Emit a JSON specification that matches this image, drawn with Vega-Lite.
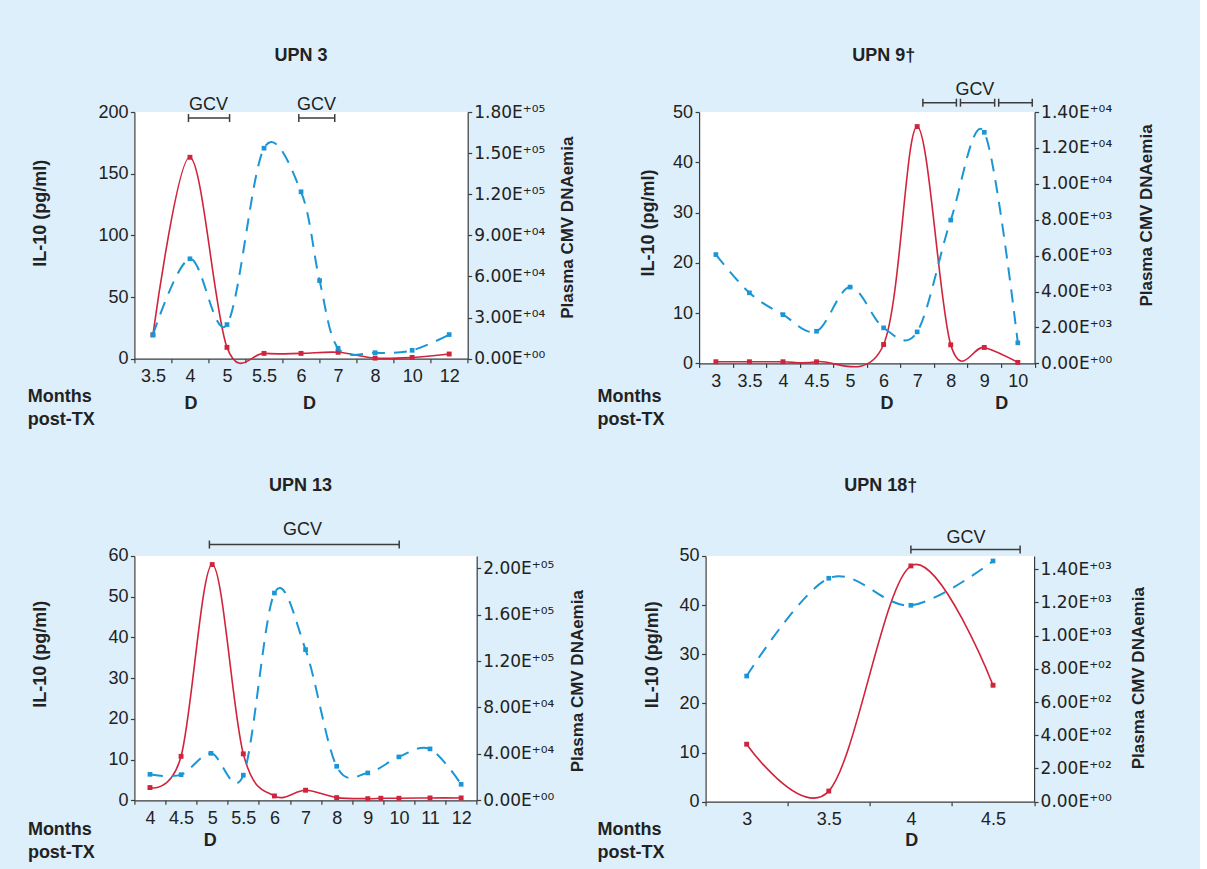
{
  "$schema": "https://vega.github.io/schema/vega-lite/v6.json",
  "background": "#ddeffb",
  "padding": {"left": 26.4, "top": 46, "right": 45, "bottom": 60},
  "columns": 1,
  "align": "none",
  "spacing": 48,
  "concat": [
    {
      "hconcat": [
        {
          "title": {"text": "UPN 3", "offset": 31, "dx": 0},
          "width": 333.3, "height": 246.7,
          "encoding": {"x": {"field": "step", "type": "quantitative", "scale": {"domain": [-0.5, 8.5], "nice": false, "zero": false},
            "axis": {"values": [-0.5,0,0.5,1,1.5,2,2.5,3,3.5,4,4.5,5,5.5,6,6.5,7,7.5,8,8.5],
              "labelExpr": "datum.value % 1 === 0 ? ['3.5','4','5','5.5','6','7','8','10','12'][datum.value] : ''",
              "tickOpacity": {"condition": {"test": "datum.value % 1 === 0", "value": 0}, "value": 1},
              "labelPadding": 5,
              "title": ["Months", "post-TX"], "titleX": -107.1, "titleY": 42.7, "titleAlign": "left", "titleBaseline": "alphabetic", "titleLineHeight": 23.4}}},
          "resolve": {"scale": {"y": "independent"}},
          "layer": [
            {"data": {"values": [{"step":0,"il10":19.3},{"step":1,"il10":163.3},{"step":2,"il10":9.2},{"step":3,"il10":4.3},{"step":4,"il10":4.3},{"step":5,"il10":5.2},{"step":6,"il10":0.5},{"step":7,"il10":1},{"step":8,"il10":3.8}]},
             "encoding": {"y": {"field": "il10", "type": "quantitative", "scale": {"domain": [0, 200], "nice": false},
               "axis": {"orient": "left", "values": [0,50,100,150,200], "labelPadding": 2.5, "title": "IL-10 (pg/ml)", "titleAngle": 270, "titleX": -93.9, "titleY": 100.7, "titleAlign": "center", "titleBaseline": "middle"}}},
             "layer": [
               {"mark": {"type": "line", "interpolate": "cardinal", "color": "#d0243c", "strokeWidth": 1.6}},
               {"mark": {"type": "point", "shape": "square", "filled": true, "size": 24, "color": "#d0243c", "opacity": 1}}
             ]},
            {"data": {"values": [{"step":0,"cmv":17400},{"step":1,"cmv":72900},{"step":2,"cmv":24900},{"step":3,"cmv":153600},{"step":4,"cmv":121800},{"step":4.5,"cmv":57000},{"step":5,"cmv":7600},{"step":6,"cmv":4400},{"step":7,"cmv":6100},{"step":8,"cmv":17600}]},
             "encoding": {"y": {"field": "cmv", "type": "quantitative", "scale": {"domain": [0, 180000], "nice": false},
               "axis": {"orient": "right", "values": [0,30000,60000,90000,120000,150000,180000], "labelPadding": 2, "labelFont": "DejaVu Sans", "labelFontSize": 17,
                 "labelExpr": "datum.value === 0 ? '0.00E⁺⁰⁰' : format(datum.value / pow(10, floor(log(datum.value) / LN10 + 1e-6)), '.2f') + 'E⁺⁰' + substring('⁰¹²³⁴⁵⁶⁷⁸⁹', floor(log(datum.value) / LN10 + 1e-6), floor(log(datum.value) / LN10 + 1e-6) + 1)",
                 "title": "Plasma CMV DNAemia", "titleFontSize": 17, "titleAngle": 270, "titleX": 99.6, "titleY": 115.2, "titleAlign": "center", "titleBaseline": "middle"}}},
             "layer": [
               {"mark": {"type": "line", "interpolate": "cardinal", "color": "#1b96d4", "strokeWidth": 2, "strokeDash": [13, 9]}},
               {"mark": {"type": "point", "shape": "square", "filled": true, "size": 22, "color": "#1b96d4", "opacity": 1}}
             ]},
            {"data": {"values": [{"step": 0.96, "step2": 2.07, "yv": 195.1}, {"step": 3.94, "step2": 4.91, "yv": 195.1}]},
             "mark": {"type": "rule", "color": "#3c3c3c", "strokeWidth": 1.5},
             "encoding": {"x2": {"field": "step2"}, "y": {"field": "yv", "type": "quantitative", "scale": {"domain": [0, 200], "nice": false}, "axis": null}}},
            {"data": {"values": [{"step": 0.96, "yv": 195.1}, {"step": 2.07, "yv": 195.1}, {"step": 3.94, "yv": 195.1}, {"step": 4.91, "yv": 195.1}]},
             "mark": {"type": "tick", "orient": "vertical", "size": 8, "thickness": 1.5, "color": "#3c3c3c", "opacity": 1},
             "encoding": {"y": {"field": "yv", "type": "quantitative", "scale": {"domain": [0, 200], "nice": false}, "axis": null}}},
            {"data": {"values": [{"step": 1.5, "yv": 205.6, "label": "GCV"}, {"step": 4.42, "yv": 205.6, "label": "GCV"}]},
             "mark": {"type": "text", "fontSize": 18, "color": "#222222", "baseline": "middle"},
             "encoding": {"y": {"field": "yv", "type": "quantitative", "scale": {"domain": [0, 200], "nice": false}, "axis": null}, "text": {"field": "label"}}},
            {"data": {"values": [{"step": 1.03, "yv": -37.0, "label": "D"}, {"step": 4.23, "yv": -37.0, "label": "D"}]},
             "mark": {"type": "text", "fontSize": 18, "fontWeight": "bold", "color": "#222222", "baseline": "middle"},
             "encoding": {"y": {"field": "yv", "type": "quantitative", "scale": {"domain": [0, 200], "nice": false}, "axis": null}, "text": {"field": "label"}}}
          ]
        },
        {
          "title": {"text": "UPN 9†", "offset": 16, "dx": 17},
          "width": 335.5, "height": 251.4,
          "encoding": {"x": {"field": "step", "type": "quantitative", "scale": {"domain": [-0.5, 9.5], "nice": false, "zero": false},
            "axis": {"values": [-0.5,0,0.5,1,1.5,2,2.5,3,3.5,4,4.5,5,5.5,6,6.5,7,7.5,8,8.5,9,9.5],
              "labelExpr": "datum.value % 1 === 0 ? ['3','3.5','4','4.5','5','6','7','8','9','10'][datum.value] : ''",
              "tickOpacity": {"condition": {"test": "datum.value % 1 === 0", "value": 0}, "value": 1},
              "labelPadding": 5,
              "title": ["Months", "post-TX"], "titleX": -102.1, "titleY": 38, "titleAlign": "left", "titleBaseline": "alphabetic", "titleLineHeight": 23.4}}},
          "resolve": {"scale": {"y": "independent"}},
          "layer": [
            {"data": {"values": [{"step":0,"il10":0.33},{"step":1,"il10":0.33},{"step":2,"il10":0.33},{"step":3,"il10":0.33},{"step":5,"il10":3.76},{"step":6,"il10":47.1},{"step":7,"il10":3.7},{"step":8,"il10":3.17},{"step":9,"il10":0.2}]},
             "encoding": {"y": {"field": "il10", "type": "quantitative", "scale": {"domain": [0, 50], "nice": false},
               "axis": {"orient": "left", "values": [0,10,20,30,40,50], "labelPadding": 2.5, "title": "IL-10 (pg/ml)", "titleAngle": 270, "titleX": -50.9, "titleY": 110.5, "titleAlign": "center", "titleBaseline": "middle"}}},
             "layer": [
               {"mark": {"type": "line", "interpolate": "cardinal", "color": "#d0243c", "strokeWidth": 1.6}},
               {"mark": {"type": "point", "shape": "square", "filled": true, "size": 24, "color": "#d0243c", "opacity": 1}}
             ]},
            {"data": {"values": [{"step":0,"cmv":6060},{"step":1,"cmv":3930},{"step":2,"cmv":2715},{"step":3,"cmv":1790},{"step":4,"cmv":4250},{"step":5,"cmv":1980},{"step":6,"cmv":1755},{"step":7,"cmv":7980},{"step":8,"cmv":12870},{"step":9,"cmv":1145}]},
             "encoding": {"y": {"field": "cmv", "type": "quantitative", "scale": {"domain": [0, 14000], "nice": false},
               "axis": {"orient": "right", "values": [0,2000,4000,6000,8000,10000,12000,14000], "labelPadding": 2, "labelFont": "DejaVu Sans", "labelFontSize": 17,
                 "labelExpr": "datum.value === 0 ? '0.00E⁺⁰⁰' : format(datum.value / pow(10, floor(log(datum.value) / LN10 + 1e-6)), '.2f') + 'E⁺⁰' + substring('⁰¹²³⁴⁵⁶⁷⁸⁹', floor(log(datum.value) / LN10 + 1e-6), floor(log(datum.value) / LN10 + 1e-6) + 1)",
                 "title": "Plasma CMV DNAemia", "titleFontSize": 17, "titleAngle": 270, "titleX": 112, "titleY": 103, "titleAlign": "center", "titleBaseline": "middle"}}},
             "layer": [
               {"mark": {"type": "line", "interpolate": "cardinal", "color": "#1b96d4", "strokeWidth": 2, "strokeDash": [13, 9]}},
               {"mark": {"type": "point", "shape": "square", "filled": true, "size": 22, "color": "#1b96d4", "opacity": 1}}
             ]},
            {"data": {"values": [{"step": 6.17, "step2": 7.17, "yv": 51.85}, {"step": 7.29, "step2": 8.31, "yv": 51.85}, {"step": 8.43, "step2": 9.43, "yv": 51.85}]},
             "mark": {"type": "rule", "color": "#3c3c3c", "strokeWidth": 1.5},
             "encoding": {"x2": {"field": "step2"}, "y": {"field": "yv", "type": "quantitative", "scale": {"domain": [0, 50], "nice": false}, "axis": null}}},
            {"data": {"values": [{"step": 6.17, "yv": 51.85}, {"step": 7.17, "yv": 51.85}, {"step": 7.29, "yv": 51.85}, {"step": 8.31, "yv": 51.85}, {"step": 8.43, "yv": 51.85}, {"step": 9.43, "yv": 51.85}]},
             "mark": {"type": "tick", "orient": "vertical", "size": 8, "thickness": 1.5, "color": "#3c3c3c", "opacity": 1},
             "encoding": {"y": {"field": "yv", "type": "quantitative", "scale": {"domain": [0, 50], "nice": false}, "axis": null}}},
            {"data": {"values": [{"step": 7.72, "yv": 54.4, "label": "GCV"}]},
             "mark": {"type": "text", "fontSize": 18, "color": "#222222", "baseline": "middle"},
             "encoding": {"y": {"field": "yv", "type": "quantitative", "scale": {"domain": [0, 50], "nice": false}, "axis": null}, "text": {"field": "label"}}},
            {"data": {"values": [{"step": 5.1, "yv": -8.15, "label": "D"}, {"step": 8.52, "yv": -8.15, "label": "D"}]},
             "mark": {"type": "text", "fontSize": 18, "fontWeight": "bold", "color": "#222222", "baseline": "middle"},
             "encoding": {"y": {"field": "yv", "type": "quantitative", "scale": {"domain": [0, 50], "nice": false}, "axis": null}, "text": {"field": "label"}}}
          ]
        }
      ],
      "spacing": 230.7, "bounds": "flush"
    },
    {
      "hconcat": [
        {
          "title": {"text": "UPN 13", "offset": 25.7, "dx": -5},
          "width": 342.3, "height": 244.3,
          "encoding": {"x": {"field": "step", "type": "quantitative", "scale": {"domain": [-0.5, 10.5], "nice": false, "zero": false},
            "axis": {"values": [-0.5,0,0.5,1,1.5,2,2.5,3,3.5,4,4.5,5,5.5,6,6.5,7,7.5,8,8.5,9,9.5,10,10.5],
              "labelExpr": "datum.value % 1 === 0 ? ['4','4.5','5','5.5','6','7','8','9','10','11','12'][datum.value] : ''",
              "tickOpacity": {"condition": {"test": "datum.value % 1 === 0", "value": 0}, "value": 1},
              "labelPadding": 5,
              "title": ["Months", "post-TX"], "titleX": -107.0, "titleY": 33.8, "titleAlign": "left", "titleBaseline": "alphabetic", "titleLineHeight": 23.4}}},
          "resolve": {"scale": {"y": "independent"}},
          "layer": [
            {"data": {"values": [{"step":0,"il10":3.13},{"step":1,"il10":10.8},{"step":2,"il10":57.9},{"step":3,"il10":11.4},{"step":4,"il10":1.07},{"step":5,"il10":2.47},{"step":6,"il10":0.66},{"step":7,"il10":0.4},{"step":7.42,"il10":0.5},{"step":8,"il10":0.5},{"step":9,"il10":0.58},{"step":10,"il10":0.58}]},
             "encoding": {"y": {"field": "il10", "type": "quantitative", "scale": {"domain": [0, 60], "nice": false},
               "axis": {"orient": "left", "values": [0,10,20,30,40,50,60], "labelPadding": 2.5, "title": "IL-10 (pg/ml)", "titleAngle": 270, "titleX": -93.5, "titleY": 97.8, "titleAlign": "center", "titleBaseline": "middle"}}},
             "layer": [
               {"mark": {"type": "line", "interpolate": "cardinal", "color": "#d0243c", "strokeWidth": 1.6}},
               {"mark": {"type": "point", "shape": "square", "filled": true, "size": 24, "color": "#d0243c", "opacity": 1}}
             ]},
            {"data": {"values": [{"step":0,"cmv":22400},{"step":1,"cmv":22100},{"step":1.96,"cmv":40500},{"step":3,"cmv":21600},{"step":4,"cmv":178700},{"step":5,"cmv":129900},{"step":6,"cmv":29300},{"step":7,"cmv":23600},{"step":8,"cmv":37400},{"step":9,"cmv":44300},{"step":10,"cmv":13800}]},
             "encoding": {"y": {"field": "cmv", "type": "quantitative", "scale": {"domain": [0, 210600], "nice": false},
               "axis": {"orient": "right", "values": [0,40000,80000,120000,160000,200000], "labelPadding": 2, "labelFont": "DejaVu Sans", "labelFontSize": 17,
                 "labelExpr": "datum.value === 0 ? '0.00E⁺⁰⁰' : format(datum.value / pow(10, floor(log(datum.value) / LN10 + 1e-6)), '.2f') + 'E⁺⁰' + substring('⁰¹²³⁴⁵⁶⁷⁸⁹', floor(log(datum.value) / LN10 + 1e-6), floor(log(datum.value) / LN10 + 1e-6) + 1)",
                 "title": "Plasma CMV DNAemia", "titleFontSize": 17, "titleAngle": 270, "titleX": 100.4, "titleY": 124.7, "titleAlign": "center", "titleBaseline": "middle"}}},
             "layer": [
               {"mark": {"type": "line", "interpolate": "cardinal", "color": "#1b96d4", "strokeWidth": 2, "strokeDash": [13, 9]}},
               {"mark": {"type": "point", "shape": "square", "filled": true, "size": 22, "color": "#1b96d4", "opacity": 1}}
             ]},
            {"data": {"values": [{"step": 1.91, "step2": 8.01, "yv": 62.8}]},
             "mark": {"type": "rule", "color": "#3c3c3c", "strokeWidth": 1.5},
             "encoding": {"x2": {"field": "step2"}, "y": {"field": "yv", "type": "quantitative", "scale": {"domain": [0, 60], "nice": false}, "axis": null}}},
            {"data": {"values": [{"step": 1.91, "yv": 62.8}, {"step": 8.01, "yv": 62.8}]},
             "mark": {"type": "tick", "orient": "vertical", "size": 8, "thickness": 1.5, "color": "#3c3c3c", "opacity": 1},
             "encoding": {"y": {"field": "yv", "type": "quantitative", "scale": {"domain": [0, 60], "nice": false}, "axis": null}}},
            {"data": {"values": [{"step": 4.9, "yv": 66.4, "label": "GCV"}]},
             "mark": {"type": "text", "fontSize": 18, "color": "#222222", "baseline": "middle"},
             "encoding": {"y": {"field": "yv", "type": "quantitative", "scale": {"domain": [0, 60], "nice": false}, "axis": null}, "text": {"field": "label"}}},
            {"data": {"values": [{"step": 1.94, "yv": -10.0, "label": "D"}]},
             "mark": {"type": "text", "fontSize": 18, "fontWeight": "bold", "color": "#222222", "baseline": "middle"},
             "encoding": {"y": {"field": "yv", "type": "quantitative", "scale": {"domain": [0, 60], "nice": false}, "axis": null}, "text": {"field": "label"}}}
          ]
        },
        {
          "title": {"text": "UPN 18†", "offset": 34, "dx": 11},
          "width": 328.5, "height": 245.7,
          "encoding": {"x": {"field": "step", "type": "quantitative", "scale": {"domain": [-0.5, 3.5], "nice": false, "zero": false},
            "axis": {"values": [-0.5,0,0.5,1,1.5,2,2.5,3,3.5],
              "labelExpr": "datum.value % 1 === 0 ? ['3','3.5','4','4.5'][datum.value] : ''",
              "tickOpacity": {"condition": {"test": "datum.value % 1 === 0", "value": 0}, "value": 1},
              "labelPadding": 5,
              "title": ["Months", "post-TX"], "titleX": -108.6, "titleY": 32.4, "titleAlign": "left", "titleBaseline": "alphabetic", "titleLineHeight": 23.4}}},
          "resolve": {"scale": {"y": "independent"}},
          "layer": [
            {"data": {"values": [{"step":0,"il10":11.7},{"step":1,"il10":2.16},{"step":2,"il10":47.98},{"step":3,"il10":23.7}]},
             "encoding": {"y": {"field": "il10", "type": "quantitative", "scale": {"domain": [0, 50], "nice": false},
               "axis": {"orient": "left", "values": [0,10,20,30,40,50], "labelPadding": 2.5, "title": "IL-10 (pg/ml)", "titleAngle": 270, "titleX": -53.5, "titleY": 98.3, "titleAlign": "center", "titleBaseline": "middle"}}},
             "layer": [
               {"mark": {"type": "line", "interpolate": "cardinal", "color": "#d0243c", "strokeWidth": 1.6}},
               {"mark": {"type": "point", "shape": "square", "filled": true, "size": 24, "color": "#d0243c", "opacity": 1}}
             ]},
            {"data": {"values": [{"step":0,"cmv":757},{"step":1,"cmv":1346},{"step":2,"cmv":1183},{"step":3,"cmv":1450}]},
             "encoding": {"y": {"field": "cmv", "type": "quantitative", "scale": {"domain": [0, 1480], "nice": false},
               "axis": {"orient": "right", "values": [0,200,400,600,800,1000,1200,1400], "labelPadding": 2, "labelFont": "DejaVu Sans", "labelFontSize": 17,
                 "labelExpr": "datum.value === 0 ? '0.00E⁺⁰⁰' : format(datum.value / pow(10, floor(log(datum.value) / LN10 + 1e-6)), '.2f') + 'E⁺⁰' + substring('⁰¹²³⁴⁵⁶⁷⁸⁹', floor(log(datum.value) / LN10 + 1e-6), floor(log(datum.value) / LN10 + 1e-6) + 1)",
                 "title": "Plasma CMV DNAemia", "titleFontSize": 17, "titleAngle": 270, "titleX": 104.7, "titleY": 121.7, "titleAlign": "center", "titleBaseline": "middle"}}},
             "layer": [
               {"mark": {"type": "line", "interpolate": "cardinal", "color": "#1b96d4", "strokeWidth": 2, "strokeDash": [13, 9]}},
               {"mark": {"type": "point", "shape": "square", "filled": true, "size": 22, "color": "#1b96d4", "opacity": 1}}
             ]},
            {"data": {"values": [{"step": 2.0, "step2": 3.33, "yv": 51.3}]},
             "mark": {"type": "rule", "color": "#3c3c3c", "strokeWidth": 1.5},
             "encoding": {"x2": {"field": "step2"}, "y": {"field": "yv", "type": "quantitative", "scale": {"domain": [0, 50], "nice": false}, "axis": null}}},
            {"data": {"values": [{"step": 2.0, "yv": 51.3}, {"step": 3.33, "yv": 51.3}]},
             "mark": {"type": "tick", "orient": "vertical", "size": 8, "thickness": 1.5, "color": "#3c3c3c", "opacity": 1},
             "encoding": {"y": {"field": "yv", "type": "quantitative", "scale": {"domain": [0, 50], "nice": false}, "axis": null}}},
            {"data": {"values": [{"step": 2.67, "yv": 53.6, "label": "GCV"}]},
             "mark": {"type": "text", "fontSize": 18, "color": "#222222", "baseline": "middle"},
             "encoding": {"y": {"field": "yv", "type": "quantitative", "scale": {"domain": [0, 50], "nice": false}, "axis": null}, "text": {"field": "label"}}},
            {"data": {"values": [{"step": 2.01, "yv": -8.0, "label": "D"}]},
             "mark": {"type": "text", "fontSize": 18, "fontWeight": "bold", "color": "#222222", "baseline": "middle"},
             "encoding": {"y": {"field": "yv", "type": "quantitative", "scale": {"domain": [0, 50], "nice": false}, "axis": null}, "text": {"field": "label"}}}
          ]
        }
      ],
      "spacing": 228.2, "bounds": "flush"
    }
  ],
  "config": {
    "font": "Liberation Sans",
    "view": {"fill": "#ffffff", "stroke": null},
    "axis": {"grid": false, "domainColor": "#3c3c3c", "tickColor": "#3c3c3c", "domainWidth": 1.2, "tickWidth": 1.2, "tickSize": 4,
      "labelFontSize": 18, "labelColor": "#222222", "labelFont": "Liberation Sans", "labelFlush": false, "labelOverlap": false, "labelBound": false,
      "titleFontSize": 18, "titleFontWeight": "bold", "titleColor": "#222222", "titleFont": "Liberation Sans"},
    "title": {"fontSize": 18, "fontWeight": "bold", "color": "#222222", "anchor": "middle", "frame": "group", "baseline": "middle", "font": "Liberation Sans"}
  }
}
